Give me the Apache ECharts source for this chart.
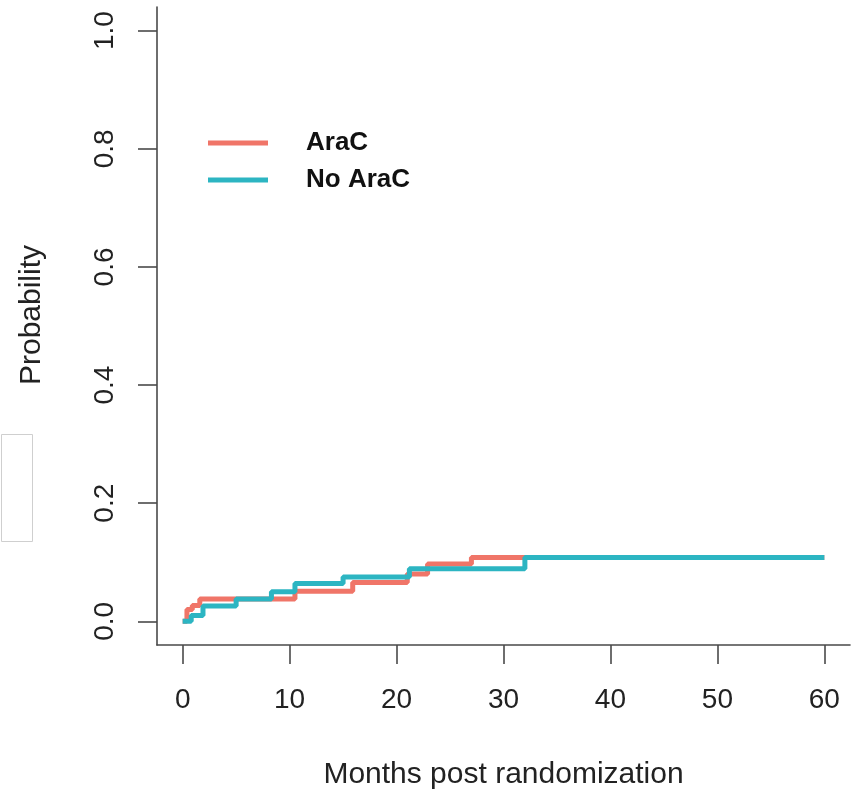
<!DOCTYPE html>
<html>
<head>
<meta charset="utf-8">
<title>Cumulative incidence by arm</title>
<script src="https://cdn.jsdelivr.net/npm/echarts@6/dist/echarts.min.js"></script>
<style>
  html, body { margin: 0; padding: 0; background: #ffffff; }
  #chart { width: 853px; height: 795px; }
</style>
</head>
<body>
<div id="chart"></div>
<script>
// Step curves: months at which each estimate jumps, and the value after the jump
const seriesNames = ['AraC', 'No AraC'];
const aracMonths   = [0, 0.4, 0.9, 1.6, 10.5, 15.9, 21.0, 22.9, 27.0, 60];
const aracProb     = [0, 0.020, 0.027, 0.038, 0.051, 0.066, 0.080, 0.097, 0.108, 0.108];
const noAracMonths = [0, 0.8, 1.9, 5.0, 8.3, 10.5, 15.0, 21.2, 32.0, 60];
const noAracProb   = [0, 0.010, 0.026, 0.038, 0.050, 0.064, 0.075, 0.089, 0.108, 0.108];

// Axis tick positions
const xTicks = [0, 10, 20, 30, 40, 50, 60];
const yTicks = [0, 0.2, 0.4, 0.6, 0.8, 1.0];

const colors = ['#F07568', '#2CB5C2'];
const axisColor = '#4a4a4a';
const fontFamily = '"Liberation Sans", Arial, Helvetica, sans-serif';

function pairs(xs, ys) {
  return xs.map((x, i) => [x, ys[i]]);
}

const chart = echarts.init(document.getElementById('chart'), null, { renderer: 'canvas' });

chart.setOption({
  animation: false,
  backgroundColor: '#ffffff',
  grid: { left: 157, top: 7, width: 693, height: 638 },
  legend: {
    orient: 'vertical',
    left: 203,
    top: 125,
    icon: 'rect',
    itemWidth: 60,
    itemHeight: 5,
    itemGap: 11,
    selectedMode: false,
    data: seriesNames,
    textStyle: {
      fontFamily: fontFamily,
      fontSize: 26,
      fontWeight: 'bold',
      color: '#111111',
      lineHeight: 26,
      padding: [0, 0, 0, 33]
    }
  },
  xAxis: {
    type: 'value',
    min: -2.4,
    max: 62.4,
    name: 'Months post randomization',
    nameLocation: 'middle',
    nameGap: 115,
    nameTextStyle: { fontFamily: fontFamily, fontSize: 30, color: '#222222' },
    splitLine: { show: false },
    axisLine: { show: true, onZero: false, lineStyle: { color: axisColor, width: 1.6 } },
    axisTick: {
      show: true, length: 19, inside: false,
      customValues: xTicks,
      lineStyle: { color: axisColor, width: 1.6 }
    },
    axisLabel: {
      customValues: xTicks,
      margin: 41,
      fontFamily: fontFamily,
      fontSize: 28,
      color: '#222222',
      formatter: v => String(v)
    }
  },
  yAxis: {
    type: 'value',
    min: -0.04,
    max: 1.04,
    name: 'Probability',
    nameLocation: 'middle',
    nameGap: 110,
    nameRotate: 90,
    nameTextStyle: {
      fontFamily: fontFamily, fontSize: 30, color: '#222222',
      padding: [0, 0, 0, 22]
    },
    splitLine: { show: false },
    axisLine: { show: true, onZero: false, lineStyle: { color: axisColor, width: 1.6 } },
    axisTick: {
      show: true, length: 19, inside: false,
      customValues: yTicks,
      lineStyle: { color: axisColor, width: 1.6 }
    },
    axisLabel: {
      customValues: yTicks,
      rotate: 90,
      margin: 38,
      fontFamily: fontFamily,
      fontSize: 28,
      color: '#222222',
      formatter: v => v.toFixed(1)
    }
  },
  series: [
    {
      name: seriesNames[0],
      type: 'line',
      step: 'end',
      showSymbol: false,
      symbol: 'none',
      color: colors[0],
      lineStyle: { width: 5, color: colors[0] },
      data: pairs(aracMonths, aracProb),
      z: 2
    },
    {
      name: seriesNames[1],
      type: 'line',
      step: 'end',
      showSymbol: false,
      symbol: 'none',
      color: colors[1],
      lineStyle: { width: 5, color: colors[1] },
      data: pairs(noAracMonths, noAracProb),
      z: 3
    }
  ],
  graphic: [
    {
      type: 'rect',
      left: -1,
      top: 432,
      shape: { width: 31, height: 107 },
      style: { fill: 'none', stroke: '#cfcfcf', lineWidth: 1 },
      silent: true
    }
  ]
});
</script>
</body>
</html>
